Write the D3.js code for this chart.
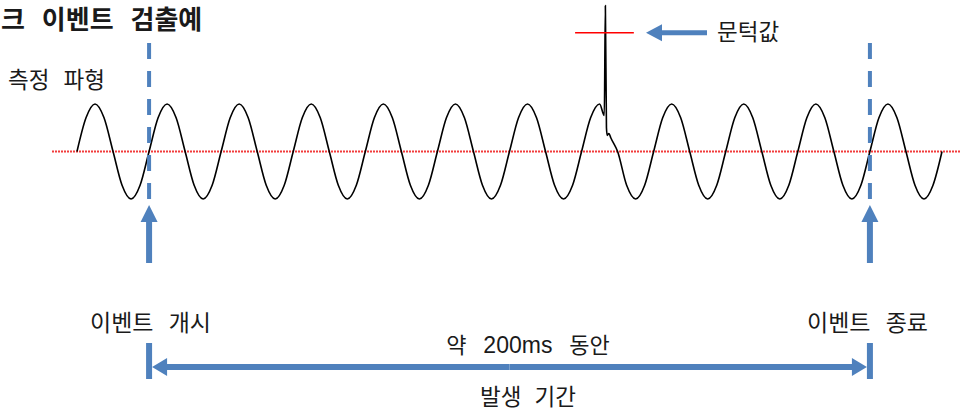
<!DOCTYPE html>
<html>
<head>
<meta charset="utf-8">
<script src="https://cdn.jsdelivr.net/npm/d3@7"></script>
<style>
  body { margin: 0; background: #fff; }
  svg { display: block; }
  text { font-family: "Noto Sans CJK KR", "Noto Sans", sans-serif; fill: #1a1a1a; }
</style>
</head>
<body>
<svg id="svg" width="960" height="411"></svg>
<script>
// DATA //

// measured waveform: [time (ms), amplitude], 50 Hz sine with one spike near 147 ms
const wave = [
  [0, 0], [2.5, 0.71], [5, 1], [7.5, 0.71], [10, 0], [12.5, -0.71], [15, -1], [17.5, -0.71],
  [20, 0], [22.5, 0.71], [25, 1], [27.5, 0.71], [30, 0], [32.5, -0.71], [35, -1], [37.5, -0.71],
  [40, 0], [42.5, 0.71], [45, 1], [47.5, 0.71], [50, 0], [52.5, -0.71], [55, -1], [57.5, -0.71],
  [60, 0], [62.5, 0.71], [65, 1], [67.5, 0.71], [70, 0], [72.5, -0.71], [75, -1], [77.5, -0.71],
  [80, 0], [82.5, 0.71], [85, 1], [87.5, 0.71], [90, 0], [92.5, -0.71], [95, -1], [97.5, -0.71],
  [100, 0], [102.5, 0.71], [105, 1], [107.5, 0.71], [110, 0], [112.5, -0.71], [115, -1], [117.5, -0.71],
  [120, 0], [122.5, 0.71], [125, 1], [127.5, 0.71], [130, 0], [132.5, -0.71], [135, -1], [137.5, -0.71],
  [140, 0], [142.5, 0.71], [145, 1], [146.3, 0.76], [146.6, 3.07], [146.9, 0.5], [147.1, 0.34],
  [147.6, 0.38], [148.1, 0.29], [150, 0], [152.5, -0.71], [155, -1], [157.5, -0.71],
  [160, 0], [162.5, 0.71], [165, 1], [167.5, 0.71], [170, 0], [172.5, -0.71], [175, -1], [177.5, -0.71],
  [180, 0], [182.5, 0.71], [185, 1], [187.5, 0.71], [190, 0], [192.5, -0.71], [195, -1], [197.5, -0.71],
  [200, 0], [202.5, 0.71], [205, 1], [207.5, 0.71], [210, 0], [212.5, -0.71], [215, -1], [217.5, -0.71],
  [220, 0], [222.5, 0.71], [225, 1], [227.5, 0.71], [230, 0], [232.5, -0.71], [235, -1], [237.5, -0.71],
  [240, 0]
];

// event boundaries (ms)
const events = [20, 220];

// threshold level and the time span the marker covers
const threshold = 2.5;
const thresholdSpan = [138.2, 154.5];

// labels
const title = "크 이벤트 검출예";
const waveLabel = "측정 파형";
const thresholdLabel = "문턱값";
const eventLabels = ["이벤트 개시", "이벤트 종료"];
const durationLabel = ["약 ", "200ms", " 동안"];
const periodLabel = "발생 기간";

// MAIN //

const blue = "#4F81BD";
const svg = d3.select("#svg");

const x = d3.scaleLinear().domain([0, 240]).range([77, 942]);
const y = d3.scaleLinear().domain([-1, 1]).range([199, 104]);

// Polygon for a straight arrow from (x1,y1) to tip (x2,y2)
function arrowPath(x1, y1, x2, y2, shaft, headW, headL) {
  const dx = x2 - x1, dy = y2 - y1;
  const len = Math.sqrt(dx * dx + dy * dy);
  const ux = dx / len, uy = dy / len;
  const px = -uy, py = ux;
  const bx = x2 - ux * headL, by = y2 - uy * headL;
  const pts = [
    [x1 + px * shaft / 2, y1 + py * shaft / 2],
    [bx + px * shaft / 2, by + py * shaft / 2],
    [bx + px * headW / 2, by + py * headW / 2],
    [x2, y2],
    [bx - px * headW / 2, by - py * headW / 2],
    [bx - px * shaft / 2, by - py * shaft / 2],
    [x1 - px * shaft / 2, y1 - py * shaft / 2]
  ];
  return "M" + pts.map(p => p.join(",")).join("L") + "Z";
}

// zero line (dotted red)
svg.append("line")
  .attr("x1", 52).attr("x2", 960)
  .attr("y1", y(0)).attr("y2", y(0))
  .attr("stroke", "#f23c3c")
  .attr("stroke-width", 1.8)
  .attr("stroke-dasharray", "2,1");

// waveform
const line = d3.line()
  .x(d => x(d[0]))
  .y(d => y(d[1]))
  .curve(d3.curveMonotoneX);

svg.append("path")
  .datum(wave)
  .attr("d", line)
  .attr("fill", "none")
  .attr("stroke", "#000")
  .attr("stroke-width", 1.6);

// threshold marker
svg.append("line")
  .attr("x1", x(thresholdSpan[0])).attr("x2", x(thresholdSpan[1]))
  .attr("y1", y(threshold)).attr("y2", y(threshold))
  .attr("stroke", "#ff0000")
  .attr("stroke-width", 1.5);

svg.append("path")
  .attr("d", arrowPath(707, y(threshold), 646, y(threshold), 5, 17, 16))
  .attr("fill", blue);

svg.append("text")
  .attr("x", 717).attr("y", 40)
  .style("font-size", "22.5px")
  .text(thresholdLabel);

// event markers: dashed line + upward arrow
events.forEach(e => {
  svg.append("line")
    .attr("x1", x(e)).attr("x2", x(e))
    .attr("y1", 43).attr("y2", 199)
    .attr("stroke", blue)
    .attr("stroke-width", 4)
    .attr("stroke-dasharray", "16,12");

  svg.append("path")
    .attr("d", arrowPath(x(e), 263, x(e), 205, 6, 17, 17))
    .attr("fill", blue);
});

// event labels
svg.append("text")
  .attr("x", 90).attr("y", 331)
  .style("font-size", "23px")
  .style("word-spacing", "10px")
  .text(eventLabels[0]);

svg.append("text")
  .attr("x", 807).attr("y", 331)
  .style("font-size", "23px")
  .style("word-spacing", "10px")
  .text(eventLabels[1]);

// duration arrow (double-headed with end bars)
const ya = 367;
const x0 = x(events[0]), x1 = x(events[1]);
const mid = (x0 + x1) / 2;
svg.append("path")
  .attr("d", arrowPath(mid, ya, x0 + 3, ya, 6, 18, 15))
  .attr("fill", blue);
svg.append("path")
  .attr("d", arrowPath(mid, ya, x1 - 3, ya, 6, 18, 15))
  .attr("fill", blue);
[x0, x1].forEach(xb => {
  svg.append("rect")
    .attr("x", xb - 3).attr("y", 343)
    .attr("width", 6).attr("height", 36)
    .attr("fill", blue);
});

const dur = svg.append("text")
  .attr("x", 528).attr("y", 353)
  .attr("text-anchor", "middle")
  .style("font-size", "22px")
  .style("word-spacing", "12px");
dur.append("tspan").text(durationLabel[0]);
dur.append("tspan")
  .style("font-family", "'Liberation Sans', Arial, sans-serif")
  .style("font-size", "23px")
  .text(durationLabel[1]);
dur.append("tspan").text(durationLabel[2]);

svg.append("text")
  .attr("x", 528).attr("y", 405)
  .attr("text-anchor", "middle")
  .style("font-size", "22.5px")
  .style("word-spacing", "8px")
  .text(periodLabel);

// wave label and title
svg.append("text")
  .attr("x", 8).attr("y", 88)
  .style("font-size", "22.5px")
  .style("word-spacing", "9px")
  .text(waveLabel);

svg.append("text")
  .attr("x", 1).attr("y", 29)
  .style("font-size", "26px")
  .style("font-weight", "bold")
  .style("word-spacing", "11px")
  .text(title);
</script>
</body>
</html>
